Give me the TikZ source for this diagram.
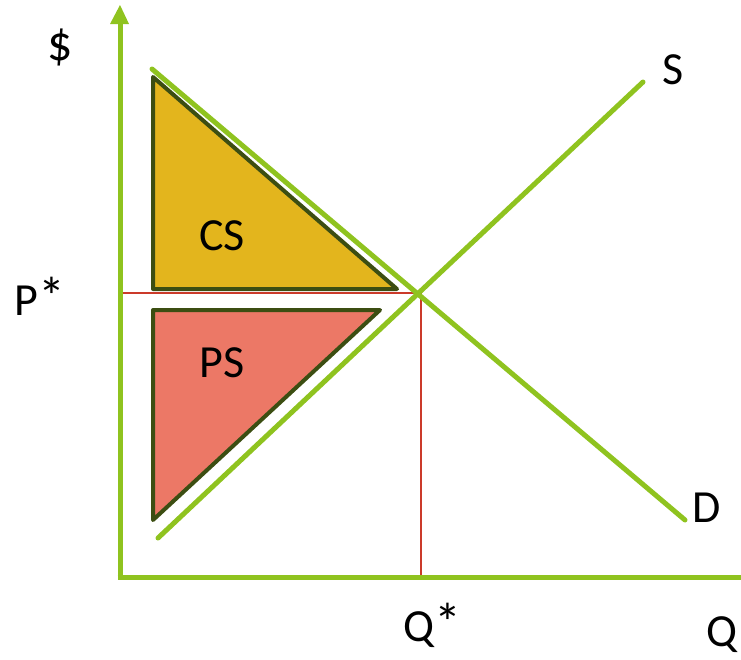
\documentclass[tikz,border=0pt]{standalone}
\usepackage{fontspec}
\setmainfont{Carlito}
\newcommand{\bigast}{{\fontsize{54}{54}\selectfont *}}
\begin{document}
\begin{tikzpicture}[x=1pt,y=-1pt,
  axis/.style={draw=grn,line width=5pt},
  curve/.style={draw=grn,line width=5pt,line cap=round},
  guide/.style={draw=redl,line width=2pt},
  area/.style={draw=dk,line width=4pt,line join=round},
  lbl/.style={font=\fontsize{46}{50}\selectfont,inner sep=0pt,text=black}]
\definecolor{grn}{HTML}{8FC31F}
\definecolor{gold}{HTML}{E3B51D}
\definecolor{salmon}{HTML}{EC7866}
\definecolor{dk}{HTML}{3C4E12}
\definecolor{redl}{HTML}{CB3A2A}
\useasboundingbox (0,0) rectangle (741,659);
% triangles
\fill[gold] (153,77) -- (153,289) -- (397,289) -- cycle;
\draw[area] (153,77) -- (153,289) -- (397,289) -- cycle;
\fill[salmon] (153,310) -- (380,310) -- (153,520) -- cycle;
\draw[area] (153,310) -- (380,310) -- (153,520) -- cycle;
% coordinates
\coordinate (orig) at (120,577);
\coordinate (ytop) at (120,22);
\coordinate (xend) at (741,577);
\coordinate (e) at (419,293);
\coordinate (pstar) at (120,293);
\coordinate (qstar) at (421,577);
\coordinate (d1) at (152,69);
\coordinate (d2) at (685,520);
\coordinate (s1) at (158,538);
\coordinate (s2) at (643,82);
% guides
\draw[guide] (pstar) -- (e);
\draw[guide] (e -| qstar) -- (qstar);
% axes
\draw[axis] (120,579.5) -- (ytop);
\fill[grn] (110,24) -- (120,5) -- (129,24) -- cycle;
\draw[axis] (117.5,577) -- (xend);
% curves
\draw[curve] (d1) -- (d2);
\draw[curve] (s1) -- (s2);
% labels
\node[lbl,font=\fontsize{50}{54}\selectfont] (dollar) at (60,47) {\$};
\node[lbl] (sl) at (673,70) {S};
\node[lbl] (dl) at (707,508) {D};
\node[lbl] (cs) at (222,236) {CS};
\node[lbl] (ps) at (222,363) {PS};
\node[lbl] (pl) at (40,296) {P\bigast};
\node[lbl] (ql) at (432,625) {Q\bigast};
\node[lbl] (qq) at (722,635) {Q};
\end{tikzpicture}
\end{document}
